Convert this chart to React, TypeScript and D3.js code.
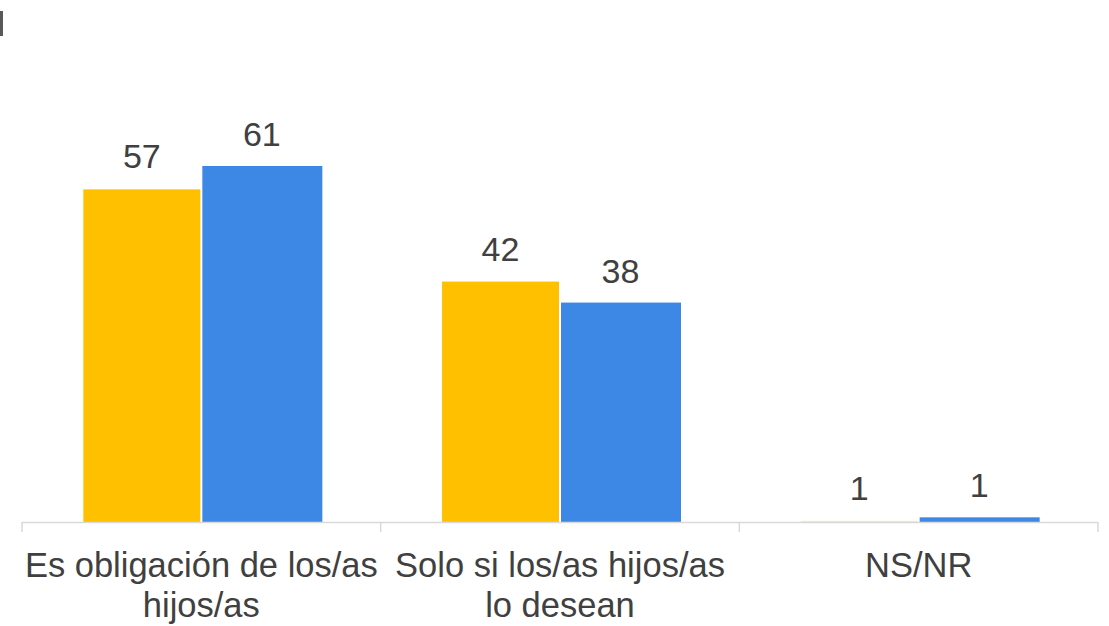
import React from "react";
import * as d3 from "d3";

const categories = ["Es obligación de los/as|hijos/as", "Solo si los/as hijos/as|lo desean", "NS/NR"];
const seriesA = [57, 41.2, 0.2];
const seriesB = [61, 37.6, 0.8];
const labelsA = ["57", "42", "1"];
const labelsB = ["61", "38", "1"];

const W = 1109, H = 626;
const baseY = 522;
const x0 = d3.scaleBand<number>().domain([0, 1, 2]).range([22, 1098]).paddingInner(0).paddingOuter(0);
const y = d3.scaleLinear().domain([0, 61]).range([baseY, 166]);

export default function App() {
  const bw = x0.bandwidth();
  const barW = 117;
  const gap = 2;
  const font = "'Liberation Sans', Arial, sans-serif";
  const textColor = "#404040";
  return (
    <svg width={W} height={H} style={{ position: "absolute", left: 0, top: 0, background: "#fff" }}>
      <rect x={0} y={11} width={3} height={25} fill="#595959" />
      {categories.map((c, i) => {
        const cx = (x0(i) as number) + bw / 2;
        const xa = cx - gap / 2 - barW;
        const xb = cx + gap / 2;
        const lines = c.split("|");
        return (
          <g key={i}>
            <rect x={xa} y={y(seriesA[i])} width={barW} height={baseY - y(seriesA[i])} fill={i === 2 ? "#FFE9A8" : "#FFC000"} />
            <rect x={xb} y={y(seriesB[i])} width={barW + 3} height={baseY - y(seriesB[i])} fill="#3E88E5" />
            <text x={xa + barW / 2} y={y(seriesA[i]) - 21} textAnchor="middle" fontFamily={font} fontSize={34} fill={textColor}>{labelsA[i]}</text>
            <text x={xb + barW / 2 + 1} y={y(seriesB[i]) - 20} textAnchor="middle" fontFamily={font} fontSize={34} fill={textColor}>{labelsB[i]}</text>
            {lines.map((l, j) => (
              <text key={j} x={cx} y={577 + j * 40} textAnchor="middle" fontFamily={font} fontSize={34.5} fill={textColor}>{l}</text>
            ))}
          </g>
        );
      })}
      <line x1={22} x2={1098} y1={baseY + 0.5} y2={baseY + 0.5} stroke="#d9d9d9" strokeWidth={1.5} />
      {[0, 1, 2, 3].map((k) => {
        const xx = k < 3 ? (x0(k) as number) : 1098;
        return <line key={k} x1={xx} x2={xx} y1={baseY} y2={baseY + 10} stroke="#d9d9d9" strokeWidth={1.5} />;
      })}
    </svg>
  );
}
